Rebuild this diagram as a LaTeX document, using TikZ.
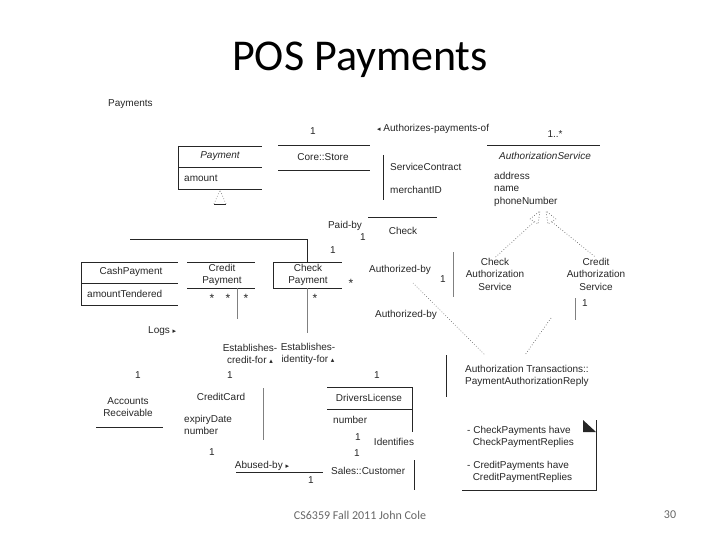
\documentclass[tikz,border=0pt]{standalone}
\usepackage{fontspec}
\setmainfont{Liberation Sans}
\newfontfamily\slidefont{Carlito}
\newfontfamily\symfont{DejaVu Sans}
\newcommand{\umlsize}{\fontsize{10}{12.5}\selectfont}
\newcommand{\tipL}{{\symfont\fontsize{7}{7}\selectfont ◂}}
\newcommand{\tipU}{{\symfont\fontsize{7}{7}\selectfont ▴}}
\newcommand{\tipR}{{\symfont\fontsize{7}{7}\selectfont ▸}}
\begin{document}
\begin{tikzpicture}[x=1pt,y=-1pt,line cap=butt,
	txt/.style={inner sep=0pt,font=\umlsize,text=black!85,align=center},
	ltxt/.style={txt,anchor=west,align=left},
	itxt/.style={txt,font=\umlsize\itshape},
	star/.style={txt,font=\fontsize{12}{12}\selectfont},
	rule/.style={line width=.7pt,black!85},
	faint/.style={line width=.7pt,black!50},
	dots/.style={line width=.7pt,black!60,dotted}]
	\useasboundingbox (0,0) rectangle (720,540);
	\node[inner sep=0pt,font=\slidefont\fontsize{44}{44}\selectfont] (title) at (360,60) {POS Payments};
	\node[ltxt] (pkg) at (108,104) {Payments};
	% top row
	\draw[rule] (178,146)--(262,146) (178,167)--(262,167) (178,189)--(262,189) (178,146)--(178,189);
	\node[itxt] (payment) at (220,156) {Payment};
	\node[ltxt] (amount) at (184,178) {amount};
	\draw[faint,dotted] (214,204)--(220,190)--(226,204);
	\draw[rule] (214,204)--(226,204);
	\node[txt] (m1) at (313,131) {1};
	\draw[rule] (278,145)--(370,145) (278,170)--(370,170);
	\node[txt] (store) at (323,157) {Core::Store};
	\node[ltxt] (authof) at (377,129) {\tipL\ Authorizes-payments-of};
	\node[txt] (m2) at (555,134) {1..*};
	\draw[rule] (383,155)--(383,200);
	\node[ltxt] (contract) at (390,167) {ServiceContract};
	\node[ltxt] (merchant) at (390,190) {merchantID};
	\draw[rule] (487,145)--(600,145);
	\node[itxt] (authsvc) at (545,156) {AuthorizationService};
	\node[ltxt] (attrs) at (494,189) {address\\name\\phoneNumber};
	% generalization to the services
	\draw[dots] (530,219)--(540,211)--(538,224)--cycle;
	\draw[dots] (556,219)--(546,211)--(548,224)--cycle;
	\coordinate (genL) at (534,222);
	\coordinate (genR) at (552,222);
	\node[txt] (checksvc) at (495,274) {Check\\Authorization\\Service};
	\node[txt] (creditsvc) at (596,274) {Credit\\Authorization\\Service};
	\draw[dots] (genL)--(checksvc.north);
	\draw[dots] (genR)--(creditsvc.north);
	\draw[faint] (453,252)--(453,297) (575,298)--(575,320);
	\node[txt] (m3) at (443,279) {1};
	\node[txt] (m4) at (585,303) {1};
	% payments row
	\node[txt] (paidby) at (345,226) {Paid-by};
	\node[txt] (m5) at (363,237) {1};
	\draw[rule] (368,217)--(437,217);
	\node[txt] (check) at (403,231) {Check};
	\coordinate (hierL) at (130,239);
	\coordinate (hierR) at (307,262);
	\draw[rule] (hierL)-|(hierR);
	\draw[rule] (81,262)--(178,262) (81,283)--(178,283) (81,305)--(178,305) (81,262)--(81,305);
	\node[txt] (cash) at (131,272) {CashPayment};
	\node[ltxt] (tendered) at (87,294) {amountTendered};
	\draw[rule] (187,262)--(255,262) (187,288)--(255,288);
	\node[txt] (creditpay) at (222,275) {Credit\\Payment};
	\foreach \x in {212,228,246}
		\node[star] at (\x,298) {*};
	\draw[faint] (237,288)--(237,319);
	\draw[rule] (273,262)--(342,262) (273,288)--(342,288) (273,262)--(273,288);
	\node[txt] (checkpay) at (308,275) {Check\\Payment};
	\node[txt] (m6) at (333,250) {1};
	\node[star] (m7) at (315,298) {*};
	\node[star] (m8) at (351,283) {*};
	\draw[faint] (307,288)--(307,333);
	\node[txt] (authby1) at (400,270) {Authorized-by};
	\node[txt] (authby2) at (406,315) {Authorized-by};
	\node[ltxt] (logs) at (148,331) {Logs \tipR};
	% reply
	\coordinate (replyL) at (485,355);
	\coordinate (replyR) at (525,355);
	\draw[dots] (413,283)--(replyL);
	\draw[dots] (551,318)--(replyR);
	\draw[rule] (446,355)--(446,397);
	\node[ltxt] (reply) at (465,376) {Authorization Transactions::\\PaymentAuthorizationReply};
	% note
	\draw[rule] (596,420)--(596,490)--(462,490);
	\fill[black!85] (583,420)--(596,432)--(583,432)--cycle;
	\node[ltxt] (note1) at (467,437) {- CheckPayments have\\\ \ CheckPaymentReplies};
	\node[ltxt] (note2) at (467,472) {- CreditPayments have\\\ \ CreditPaymentReplies};
	% bottom row
	\node[txt] (estcredit) at (250,354) {Establishes-\\credit-for \tipU};
	\node[txt] (estid) at (308,354) {Establishes-\\identity-for \tipU};
	\node[txt] (m9) at (138,375) {1};
	\node[txt] (m10) at (230,375) {1};
	\node[txt] (m11) at (377,375) {1};
	\node[txt] (accounts) at (128,407) {Accounts\\Receivable};
	\draw[rule] (96,427)--(163,427);
	\node[txt] (card) at (221,397) {CreditCard};
	\node[ltxt] (cardattr) at (184,425) {expiryDate\\number};
	\draw[faint] (263,388)--(263,440);
	\draw[rule] (327,387)--(412,387) (327,409)--(412,409) (412,387)--(412,432);
	\node[txt] (license) at (369,398) {DriversLicense};
	\node[ltxt] (licnum) at (333,420) {number};
	\node[txt] (m12) at (358,437) {1};
	\node[txt] (ident) at (394,442) {Identifies};
	\node[txt] (m13) at (357,453) {1};
	\node[txt] (m14) at (212,452) {1};
	\node[txt] (abused) at (262,466) {Abused-by \tipR};
	\draw[rule] (236,472)--(323,472);
	\node[txt] (m15) at (311,480) {1};
	\node[ltxt] (customer) at (331,471) {Sales::Customer};
	\draw[rule] (414,460)--(414,490);
	% footer
	\node[inner sep=0pt,font=\slidefont\fontsize{12}{12}\selectfont,text=black!60] (footer) at (360,515) {CS6359 Fall 2011 John Cole};
	\node[inner sep=0pt,font=\slidefont\fontsize{12}{12}\selectfont,text=black!60] (page) at (670,515) {30};
\end{tikzpicture}
\end{document}
